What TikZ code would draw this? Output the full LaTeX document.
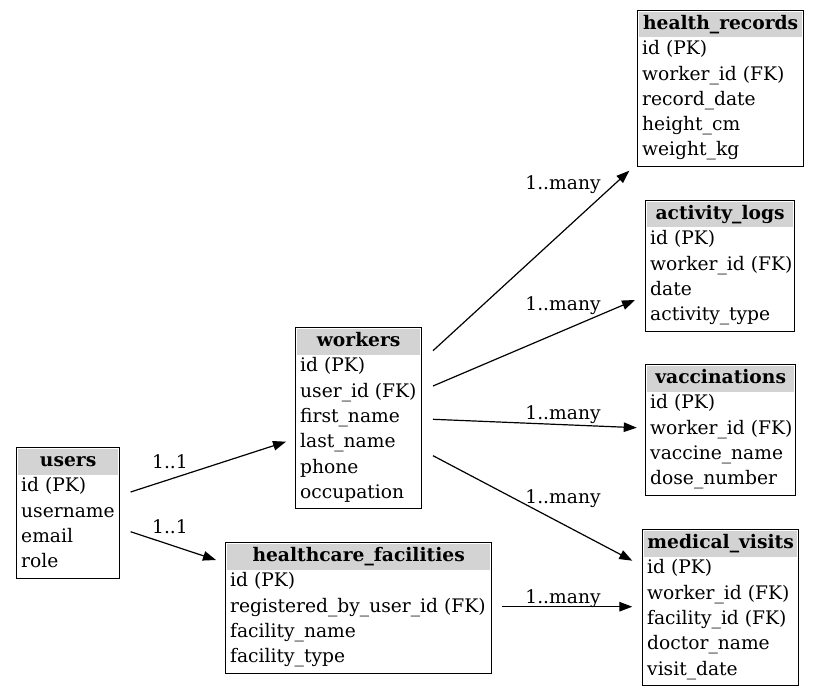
\documentclass[tikz,border=0pt]{standalone}
\usepackage{fontspec}
\setmainfont{DejaVu Serif}
\usetikzlibrary{calc,arrows.meta}
\definecolor{hdrgray}{HTML}{D3D3D3}
\tikzset{
  tbl/.style={draw=black, line width=1.3pt, rectangle, inner sep=0pt, fill=white},
  hdr/.style={fill=hdrgray},
  hdrtext/.style={inner sep=0pt, font=\bfseries},
  rowtext/.style={inner sep=0pt},
  rel/.style={line width=1.2pt, -{Triangle[length=13pt,width=9.5pt]}},
  lbl/.style={inner sep=0pt, anchor=base}
}
\newcommand{\mktable}[6]{%
  \foreach \r [count=\k] in {#6} {\xdef\nrows{\k}}%
  \pgfmathsetmacro\hgt{25.3*(\nrows+1)+4}%
  \node[tbl, minimum width=#4pt, minimum height=\hgt pt, anchor=north west] (#1) at (#2,#3) {};
  \fill[hdr] ($(#1.north west)+(2,2)$) rectangle ($(#1.north east)+(-2,27.5)$);
  \node[hdrtext, anchor=base] (#1-title) at ($(#1.north)+(0,19.5)$) {#5};
  \foreach \r [count=\k] in {#6} {
    \node[rowtext, anchor=base west] (#1-\k) at ($(#1.north west)+(5,{19.5+25.3*\k})$) {\r};
  }
}
\begin{document}
\begin{tikzpicture}[x=1pt,y=-1pt]
\fontsize{18.67pt}{22pt}\selectfont
\useasboundingbox (0,0) rectangle (819,695);
\mktable{users}{16}{447}{103}{users}{id (PK),username,email,role}
\mktable{workers}{295}{327}{126}{workers}{id (PK),user\_id (FK),first\_name,last\_name,phone,occupation}
\mktable{hf}{225}{542}{266}{healthcare\_facilities}{id (PK),registered\_by\_user\_id (FK),facility\_name,facility\_type}
\mktable{hr}{637}{10}{166}{health\_records}{id (PK),worker\_id (FK),record\_date,height\_cm,weight\_kg}
\mktable{al}{645}{200}{149}{activity\_logs}{id (PK),worker\_id (FK),date,activity\_type}
\mktable{vac}{645}{364}{150}{vaccinations}{id (PK),worker\_id (FK),vaccine\_name,dose\_number}
\mktable{mv}{642}{529}{156}{medical\_visits}{id (PK),worker\_id (FK),facility\_id (FK),doctor\_name,visit\_date}

\draw[rel] ($(users.north east)+(10.3,45)$) -- ($(workers.north west)+(-9,114.7)$);
\node[lbl] (l1) at (170,468.5) {1..1};
\draw[rel] ($(users.north east)+(10.3,84.7)$) -- ($(hf.north west)+(-9,18)$);
\node[lbl] (l2) at (170,533.5) {1..1};
\draw[rel] ($(workers.north east)+(10.7,23.7)$) -- ($(hr.north west)+(-7.7,160.7)$);
\node[lbl] (l3) at (563,189.5) {1..many};
\draw[rel] ($(workers.north east)+(10.7,59)$) -- ($(al.north west)+(-10,100)$);
\node[lbl] (l4) at (563,310.5) {1..many};
\draw[rel] ($(workers.north east)+(10.7,92.3)$) -- ($(vac.north west)+(-8.3,63.7)$);
\node[lbl] (l5) at (563,419.5) {1..many};
\draw[rel] ($(workers.north east)+(10.7,128.7)$) -- ($(mv.north west)+(-9.7,31.7)$);
\node[lbl] (l6) at (563,503.5) {1..many};
\draw[rel] ($(hf.north east)+(10,64.7)$) -- ($(mv.north west)+(-9.7,77.7)$);
\node[lbl] (l7) at (563,603.5) {1..many};
\end{tikzpicture}
\end{document}
